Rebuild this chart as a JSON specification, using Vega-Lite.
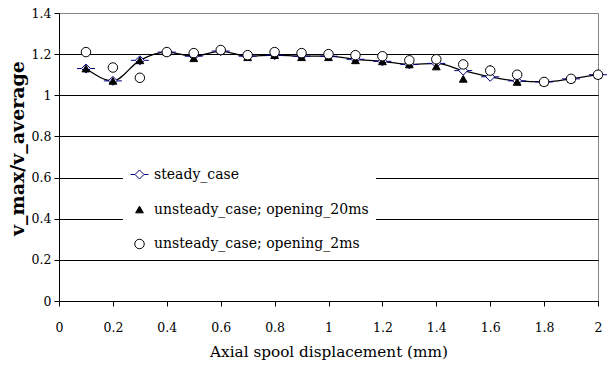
{
  "$schema": "https://vega.github.io/schema/vega-lite/v6.json",
  "width": 539,
  "height": 288,
  "autosize": "none",
  "padding": {"left": 59, "top": 13, "right": 10, "bottom": 64},
  "background": "white",
  "config": {
    "font": "DejaVu Serif",
    "view": {"stroke": "#888888", "strokeWidth": 1},
    "axis": {"labelFont": "DejaVu Serif", "titleFont": "DejaVu Serif"},
    "legend": {"labelFont": "DejaVu Serif", "titleFont": "DejaVu Serif"}
  },
  "data": {
    "values": [
      {"x": 0.1, "y": 1.13, "series": "steady_case"},
      {"x": 0.2, "y": 1.07, "series": "steady_case"},
      {"x": 0.3, "y": 1.17, "series": "steady_case"},
      {"x": 0.4, "y": 1.21, "series": "steady_case"},
      {"x": 0.5, "y": 1.19, "series": "steady_case"},
      {"x": 0.6, "y": 1.215, "series": "steady_case"},
      {"x": 0.7, "y": 1.19, "series": "steady_case"},
      {"x": 0.8, "y": 1.195, "series": "steady_case"},
      {"x": 0.9, "y": 1.19, "series": "steady_case"},
      {"x": 1.0, "y": 1.19, "series": "steady_case"},
      {"x": 1.1, "y": 1.175, "series": "steady_case"},
      {"x": 1.2, "y": 1.165, "series": "steady_case"},
      {"x": 1.3, "y": 1.15, "series": "steady_case"},
      {"x": 1.4, "y": 1.155, "series": "steady_case"},
      {"x": 1.5, "y": 1.12, "series": "steady_case"},
      {"x": 1.6, "y": 1.09, "series": "steady_case"},
      {"x": 1.7, "y": 1.07, "series": "steady_case"},
      {"x": 1.8, "y": 1.065, "series": "steady_case"},
      {"x": 1.9, "y": 1.08, "series": "steady_case"},
      {"x": 2.0, "y": 1.1, "series": "steady_case"},
      {"x": 0.1, "y": 1.13, "series": "unsteady_case; opening_20ms"},
      {"x": 0.2, "y": 1.07, "series": "unsteady_case; opening_20ms"},
      {"x": 0.3, "y": 1.17, "series": "unsteady_case; opening_20ms"},
      {"x": 0.4, "y": 1.21, "series": "unsteady_case; opening_20ms"},
      {"x": 0.5, "y": 1.18, "series": "unsteady_case; opening_20ms"},
      {"x": 0.6, "y": 1.215, "series": "unsteady_case; opening_20ms"},
      {"x": 0.7, "y": 1.185, "series": "unsteady_case; opening_20ms"},
      {"x": 0.8, "y": 1.195, "series": "unsteady_case; opening_20ms"},
      {"x": 0.9, "y": 1.185, "series": "unsteady_case; opening_20ms"},
      {"x": 1.0, "y": 1.185, "series": "unsteady_case; opening_20ms"},
      {"x": 1.1, "y": 1.17, "series": "unsteady_case; opening_20ms"},
      {"x": 1.2, "y": 1.165, "series": "unsteady_case; opening_20ms"},
      {"x": 1.3, "y": 1.15, "series": "unsteady_case; opening_20ms"},
      {"x": 1.4, "y": 1.14, "series": "unsteady_case; opening_20ms"},
      {"x": 1.5, "y": 1.08, "series": "unsteady_case; opening_20ms"},
      {"x": 1.6, "y": 1.13, "series": "unsteady_case; opening_20ms"},
      {"x": 1.7, "y": 1.065, "series": "unsteady_case; opening_20ms"},
      {"x": 1.8, "y": 1.065, "series": "unsteady_case; opening_20ms"},
      {"x": 1.9, "y": 1.08, "series": "unsteady_case; opening_20ms"},
      {"x": 2.0, "y": 1.1, "series": "unsteady_case; opening_20ms"},
      {"x": 0.1, "y": 1.21, "series": "unsteady_case; opening_2ms"},
      {"x": 0.2, "y": 1.135, "series": "unsteady_case; opening_2ms"},
      {"x": 0.3, "y": 1.085, "series": "unsteady_case; opening_2ms"},
      {"x": 0.4, "y": 1.21, "series": "unsteady_case; opening_2ms"},
      {"x": 0.5, "y": 1.205, "series": "unsteady_case; opening_2ms"},
      {"x": 0.6, "y": 1.22, "series": "unsteady_case; opening_2ms"},
      {"x": 0.7, "y": 1.195, "series": "unsteady_case; opening_2ms"},
      {"x": 0.8, "y": 1.21, "series": "unsteady_case; opening_2ms"},
      {"x": 0.9, "y": 1.205, "series": "unsteady_case; opening_2ms"},
      {"x": 1.0, "y": 1.2, "series": "unsteady_case; opening_2ms"},
      {"x": 1.1, "y": 1.195, "series": "unsteady_case; opening_2ms"},
      {"x": 1.2, "y": 1.19, "series": "unsteady_case; opening_2ms"},
      {"x": 1.3, "y": 1.17, "series": "unsteady_case; opening_2ms"},
      {"x": 1.4, "y": 1.175, "series": "unsteady_case; opening_2ms"},
      {"x": 1.5, "y": 1.15, "series": "unsteady_case; opening_2ms"},
      {"x": 1.6, "y": 1.12, "series": "unsteady_case; opening_2ms"},
      {"x": 1.7, "y": 1.1, "series": "unsteady_case; opening_2ms"},
      {"x": 1.8, "y": 1.065, "series": "unsteady_case; opening_2ms"},
      {"x": 1.9, "y": 1.08, "series": "unsteady_case; opening_2ms"},
      {"x": 2.0, "y": 1.1, "series": "unsteady_case; opening_2ms"}
    ]
  },
  "encoding": {
    "x": {
      "field": "x", "type": "quantitative",
      "scale": {"domain": [0, 2], "nice": false, "zero": false},
      "axis": {
        "title": "Axial spool displacement (mm)",
        "values": [0, 0.2, 0.4, 0.6, 0.8, 1, 1.2, 1.4, 1.6, 1.8, 2],
        "format": ".1~f",
        "grid": false,
        "domainColor": "black",
        "tickColor": "black",
        "tickSize": 5,
        "labelPadding": 15,
        "labelFontSize": 12.5,
        "labelColor": "black",
        "titleFontSize": 15.25,
        "titleFontWeight": "normal",
        "titleColor": "black",
        "titlePadding": 11,
        "labelFlush": false
      }
    },
    "y": {
      "field": "y", "type": "quantitative",
      "scale": {"domain": [0, 1.4], "nice": false},
      "axis": {
        "title": "v_max/v_average",
        "values": [0, 0.2, 0.4, 0.6, 0.8, 1, 1.2, 1.4],
        "format": ".1~f",
        "grid": true,
        "gridColor": {"condition": {"test": "datum.value >= 1.39", "value": "#888888"}, "value": "black"},
        "gridOpacity": 1,
        "domainColor": "black",
        "tickColor": "black",
        "tickSize": 5,
        "labelPadding": 3,
        "labelFontSize": 12.5,
        "labelColor": "black",
        "titleFontSize": 19,
        "titleFontWeight": "bold",
        "titleColor": "black",
        "titlePadding": 4,
        "titleY": 135,
        "titleAlign": "center",
        "labelFlush": false
      }
    }
  },
  "layer": [
    {
      "transform": [{"filter": "datum.series == 'steady_case'"}],
      "mark": {"type": "line", "interpolate": "monotone", "color": "black", "strokeWidth": 1.3},
      "encoding": {}
    },
    {
      "mark": {"type": "point", "filled": true, "strokeWidth": 1, "opacity": 1},
      "encoding": {
        "shape": {
          "field": "series", "type": "nominal",
          "scale": {
            "domain": ["steady_case", "unsteady_case; opening_20ms", "unsteady_case; opening_2ms"],
            "range": ["M-1,0L-0.5,0M0.5,0L1,0M0,-0.5L0.5,0L0,0.5L-0.5,0Z", "triangle-up", "circle"]
          },
          "legend": {
            "title": null,
            "orient": "none",
            "legendX": 64,
            "legendY": 145,
            "padding": 7,
            "fillColor": "white",
            "strokeColor": null,
            "labelFontSize": 14,
            "labelColor": "black",
            "labelOffset": 5,
            "labelLimit": 400,
            "rowPadding": 20.5,
            "symbolStrokeWidth": 1
          }
        },
        "fill": {
          "field": "series", "type": "nominal",
          "scale": {
            "domain": ["steady_case", "unsteady_case; opening_20ms", "unsteady_case; opening_2ms"],
            "range": ["white", "black", "white"]
          }
        },
        "stroke": {
          "field": "series", "type": "nominal",
          "scale": {
            "domain": ["steady_case", "unsteady_case; opening_20ms", "unsteady_case; opening_2ms"],
            "range": ["#000080", "black", "black"]
          }
        },
        "size": {
          "field": "series", "type": "nominal",
          "scale": {
            "type": "ordinal",
            "domain": ["steady_case", "unsteady_case; opening_20ms", "unsteady_case; opening_2ms"],
            "range": [324, 60, 90]
          }
        }
      }
    }
  ]
}
